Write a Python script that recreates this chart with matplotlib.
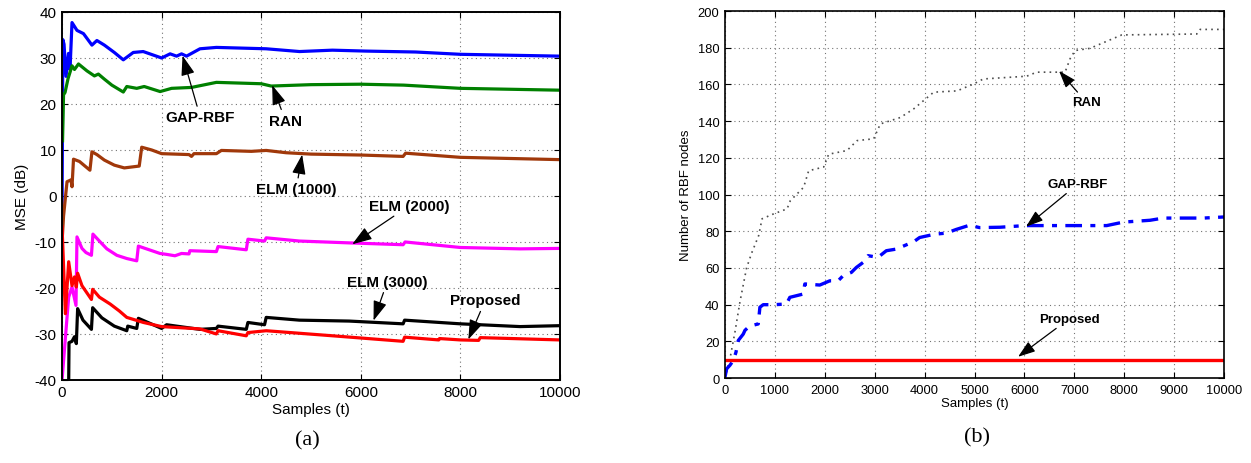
import matplotlib
matplotlib.use("Agg")
import matplotlib.pyplot as plt

plt.rcParams["font.family"] = ["Liberation Sans", "DejaVu Sans"]
plt.rcParams["axes.unicode_minus"] = False

# ---- panel (a): MSE (dB) vs samples ----
gap_t = [0, 15, 40, 80, 130, 160, 200, 300, 430, 600, 700, 850, 1050, 1230, 1430, 1630, 2000,
         2170, 2300, 2400, 2500, 2770, 3100, 4100, 4770, 5430, 6100, 7100, 8000, 10000]
gap_mse = [-4, 34, 33, 26, 31, 27.5, 37.7, 36, 35.3, 32.8, 33.8, 32.8, 31.2, 29.6, 31.2, 31.4, 30,
           30.9, 30.4, 30.9, 30.4, 32, 32.3, 32, 31.4, 31.7, 31.5, 31.3, 30.8, 30.4]

ran_t = [10, 30, 60, 120, 200, 250, 330, 500, 650, 730, 850, 1000, 1230, 1300, 1500, 1650, 1970,
         2200, 2600, 3100, 4000, 4200, 5000, 6000, 6860, 8000, 10000]
ran_mse = [12, 22, 22.5, 25.5, 28.3, 27.5, 28.7, 27.2, 26.1, 26.5, 25.4, 24.1, 22.6, 23.8, 23.4,
           23.8, 22.7, 23.4, 23.6, 24.7, 24.4, 23.9, 24.2, 24.3, 24.1, 23.4, 23.0]

elm1_t = [0, 30, 100, 180, 200, 230, 350, 560, 600, 700, 850, 1050, 1250, 1550, 1600, 1800, 2000,
          2550, 2600, 2650, 3100, 3200, 3800, 4100, 4500, 5000, 6000, 6850, 6900, 8000, 10000]
elm1_mse = [-10, -4.4, 3.1, 3.5, 2, 8, 7.5, 5.6, 9.6, 9, 7.8, 6.7, 6.1, 6.5, 10.6, 10, 9.2,
            9, 8.6, 9.2, 9.2, 9.9, 9.7, 9.9, 9.4, 9.1, 8.9, 8.6, 9.3, 8.4, 7.9]

elm2_t = [0, 100, 133, 200, 280, 300, 400, 480, 590, 620, 767, 900, 1100, 1300, 1500, 1533,
          1967, 2100, 2267, 2400, 2550, 2567, 3100, 3133, 3700, 3733, 4067, 4100, 4767, 5767,
          6850, 6890, 8000, 9200, 10000]
elm2_mse = [-40, -26.4, -22, -19.8, -23.8, -8.9, -11.4, -12.3, -12.9, -8.3, -10, -11.5, -12.9,
            -13.6, -14.1, -10.9, -12.5, -12.7, -13, -12.5, -12.6, -11.9, -12.1, -11, -11.7,
            -9.4, -9.8, -9.1, -9.8, -10.2, -10.6, -10.0, -11.2, -11.5, -11.4]

elm3_t = [130, 140, 200, 250, 287, 313, 420, 590, 615, 800, 1050, 1300, 1320, 1500, 1533, 2000,
          2100, 2767, 3100, 3133, 3700, 3733, 4067, 4100, 4767, 5767, 6850, 6880, 8000, 9200,
          10000]
elm3_mse = [-45, -31.9, -31.6, -30.6, -32.1, -24.5, -27, -29, -24.3, -26.5, -28.3, -29.3, -28.3,
            -28.8, -26.6, -28.8, -28, -29, -28.8, -28.3, -29, -27.5, -28, -26.4, -27, -27.2,
            -27.8, -27, -27.8, -28.4, -28.2]

prop_t = [0, 67, 133, 200, 250, 287, 313, 400, 590, 615, 750, 967, 1150, 1300, 1633, 2000, 2767,
          3100, 3133, 3700, 3733, 4100, 5433, 6850, 6880, 7566, 7580, 8000, 8366, 8400, 10000]
prop_mse = [-6.7, -25.6, -14.3, -19.5, -17.6, -19.8, -16.8, -19.5, -22.5, -20.3, -22, -23.5,
            -25, -26.4, -27.5, -28.4, -28.9, -30.0, -29.3, -30.4, -29.7, -29.3, -30.4, -31.6,
            -30.7, -31.3, -31, -31.3, -31.4, -30.8, -31.3]

# ---- panel (b): number of RBF nodes vs samples ----
ran_nodes_t = [0, 100, 200, 300, 433, 533, 676, 743, 977, 1244, 1310, 1577, 1677, 1978, 2078,
               2445, 2646, 2980, 3113, 3514, 3781, 4182, 4650, 4984, 5176, 6045, 6245, 6814,
               6914, 7014, 7315, 7950, 9453, 9519, 10000]
ran_nodes = [0, 10.5, 25, 41.5, 60, 68, 77.7, 86.8, 89.5, 92.2, 96.7, 104, 113, 115, 122,
             124, 129.4, 130.4, 138.5, 142, 146.7, 155.8, 156.5, 160.3, 163, 164.5, 166.7, 166.7,
             174, 178.5, 179.7, 187, 187.5, 190, 190]

gap_nodes_t = [0, 33, 100, 167, 220, 267, 367, 400, 467, 533, 667, 700, 767, 1000, 1233, 1300,
               1567, 1600, 1900, 2100, 2267, 2367, 2533, 2633, 2767, 2867, 3067, 3233, 3433,
               3667, 3767, 3900, 4200, 4433, 4633, 4900, 5100, 5511, 6012, 7648, 7982, 8517,
               8784, 9586, 10000]
gap_nodes = [0.5, 5, 7, 9.6, 14, 20.5, 24, 26, 27.7, 28.6, 29.5, 38.6, 40, 40, 40.4, 44,
             45.8, 51.3, 50.7, 53, 53, 55.8, 57.6, 60.3, 63, 66.7, 65.8, 69.4, 70.3,
             73, 74, 76.6, 78.4, 79, 81, 83.3, 82, 82.2, 83.1, 83.1, 85, 86,
             87.2, 87.2, 87.8]

prop_nodes_t = [0, 10000]
prop_nodes = [10, 10]

fig = plt.figure(figsize=(12.51, 4.64), dpi=100)
ax1 = fig.add_axes([0.0496, 0.179, 0.398, 0.793])
ax2 = fig.add_axes([0.5795, 0.183, 0.399, 0.791])

lw = 2.3
ax1.plot(gap_t, gap_mse, color="#0000ff", lw=lw)
ax1.plot(ran_t, ran_mse, color="#008000", lw=lw)
ax1.plot(elm1_t, elm1_mse, color="#a0380a", lw=lw)
ax1.plot(elm2_t, elm2_mse, color="#ff00ff", lw=lw)
ax1.plot(elm3_t, elm3_mse, color="black", lw=lw)
ax1.plot(prop_t, prop_mse, color="#ff0000", lw=lw)

ax2.plot(ran_nodes_t, ran_nodes, color="0.3", lw=1.2, ls=(0, (1, 2.5)))
ax2.plot(gap_nodes_t, gap_nodes, color="#0000ff", lw=2.4, ls=(0, (5, 2.5, 1.5, 2.5)))
ax2.plot(prop_nodes_t, prop_nodes, color="#ff0000", lw=2.4)

ax1.set_xlim(0, 10000)
ax1.set_ylim(-40, 40)
ax1.set_xticks(range(0, 10001, 2000))
ax1.set_yticks(range(-40, 41, 10))
ax1.set_xlabel("Samples (t)", fontsize=11, labelpad=2)
ax1.set_ylabel("MSE (dB)", fontsize=11, labelpad=4)

ax2.set_xlim(0, 10000)
ax2.set_ylim(0, 200)
ax2.set_xticks(range(0, 10001, 1000))
ax2.set_yticks(range(0, 201, 20))
ax2.set_xlabel("Samples (t)", fontsize=9.5, labelpad=1)
ax2.set_ylabel("Number of RBF nodes", fontsize=9.5, labelpad=4)

for ax, fs, slw in ((ax1, 11, 1.4), (ax2, 9.3, 1.2)):
    ax.grid(True, color="0.45", ls=(0, (1, 3)), lw=0.8)
    ax.tick_params(direction="in", top=True, right=True, length=4, labelsize=fs, pad=4)
    for s in ax.spines.values():
        s.set_linewidth(slw)

arrow = dict(arrowstyle="-|>,head_length=1.1,head_width=0.38", color="black", lw=0.9,
             shrinkA=1, shrinkB=0)
ann1 = [("GAP-RBF", (2420, 30.5), (2777, 17.1)),
        ("RAN", (4220, 24.1), (4486, 16.4)),
        ("ELM (1000)", (4822, 9.0), (4703, 1.5)),
        ("ELM (2000)", (5828, -10.5), (6978, -2.1)),
        ("ELM (3000)", (6256, -27.1), (6535, -18.6)),
        ("Proposed", (8160, -31.2), (8500, -22.7))]
for txt, xy, xyt in ann1:
    ax1.annotate(txt, xy=xy, xytext=xyt, ha="center", va="center", fontsize=11,
                 fontweight="bold", arrowprops=arrow)

ann2 = [("RAN", (6693, 167.4), (7234, 150.5)),
        ("GAP-RBF", (6032, 82.5), (7074, 105.8)),
        ("Proposed", (5872, 11.6), (6894, 32.3))]
for txt, xy, xyt in ann2:
    ax2.annotate(txt, xy=xy, xytext=xyt, ha="center", va="center", fontsize=9.5,
                 fontweight="bold", arrowprops=arrow)

fig.text(307 / 1251, 1 - 441 / 464, "(a)", family="Liberation Serif", fontsize=16,
         ha="center", va="center")
fig.text(977 / 1251, 1 - 438 / 464, "(b)", family="Liberation Serif", fontsize=16,
         ha="center", va="center")

fig.savefig("out.png", dpi=100)
